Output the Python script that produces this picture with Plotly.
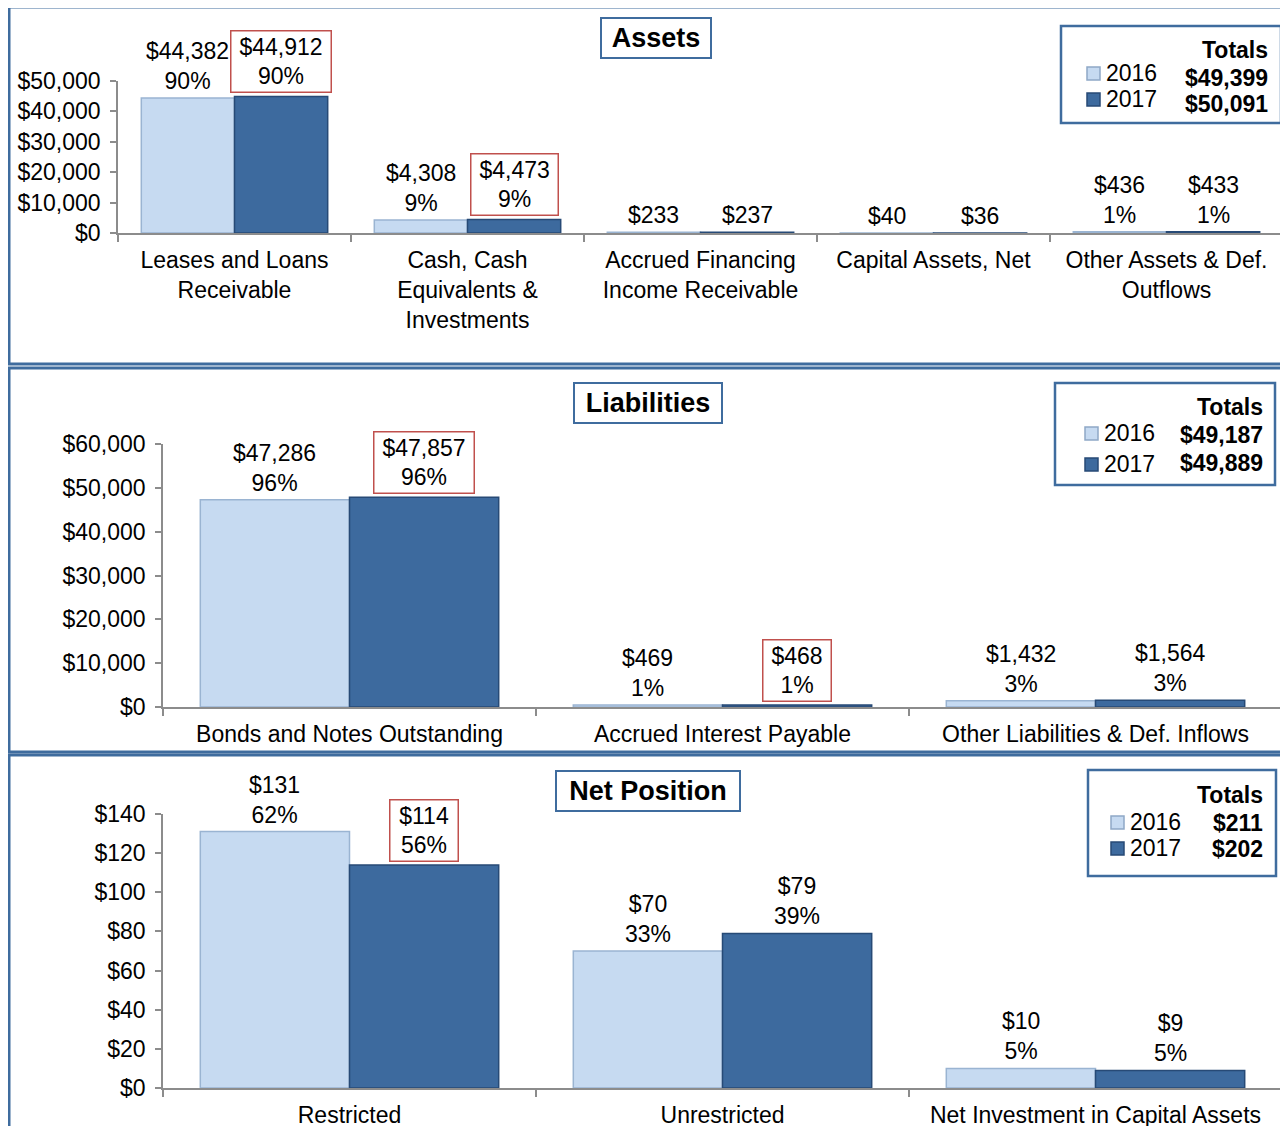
import plotly.graph_objects as go

# page body margin of the browser is 8px; figure coordinates are shifted by it
OFF = 8
W, H = 1280, 1118
FONT = "Liberation Sans, Arial, sans-serif"

# ---------------- data ----------------
title_text = "Condensed Summary of Net Position as of March 31 ($ in millions)"
years = ["2016", "2017"]

asset_cats = ["Leases and Loans<br>Receivable",
              "Cash, Cash<br>Equivalents &<br>Investments",
              "Accrued Financing<br>Income Receivable",
              "Capital Assets, Net",
              "Other Assets & Def.<br>Outflows"]
asset_2016 = [44382, 4308, 233, 40, 436]
asset_2017 = [44912, 4473, 237, 36, 433]
asset_pct_2016 = [90, 9, None, None, 1]
asset_pct_2017 = [90, 9, None, None, 1]
asset_totals = [49399, 50091]

liab_cats = ["Bonds and Notes Outstanding",
             "Accrued Interest Payable",
             "Other Liabilities & Def. Inflows"]
liab_2016 = [47286, 469, 1432]
liab_2017 = [47857, 468, 1564]
liab_pct_2016 = [96, 1, 3]
liab_pct_2017 = [96, 1, 3]
liab_totals = [49187, 49889]

net_cats = ["Restricted", "Unrestricted", "Net Investment in Capital Assets"]
net_2016 = [131, 70, 10]
net_2017 = [114, 79, 9]
net_pct_2016 = [62, 33, 5]
net_pct_2017 = [56, 39, 5]
net_totals = [211, 202]

# ---------------- style ----------------
C16, E16 = "#C6DAF1", "#9AB4D2"
C17, E17 = "#3D6A9E", "#274A76"
BLUE = "#3F6C9E"
RED = "#C0504D"
AXC = "#8C8C8C"


def px(x):
    return (x - OFF) / W


def py(y):
    return 1 - (y - OFF) / H


def money(v):
    return "${:,}".format(v)


def est_width(s, size=23):
    w = 0
    for ch in s:
        w += 0.278 if ch in ",." else (0.889 if ch == "%" else 0.556)
    return w * size


panels = [
    dict(s="", cats=asset_cats, v16=asset_2016, v17=asset_2017,
         p16=asset_pct_2016, p17=asset_pct_2017, tot=asset_totals,
         title="Assets", xdom=(118, 1283), ydom=(233, 81), yrange=(0, 50000), dtick=10000,
         tbox=(656, 38, 104, 34), frame=(9, 7, 1286, 364),
         leg=dict(box=(1061, 26, 1281, 123), right=1270, ytot=50, yrows=(73, 99), yvals=(78, 104),
                  xyear=1104, xmark=1087),
         hl=[0, 1]),
    dict(s="2", cats=liab_cats, v16=liab_2016, v17=liab_2017,
         p16=liab_pct_2016, p17=liab_pct_2017, tot=liab_totals,
         title="Liabilities", xdom=(163, 1282), ydom=(707, 444), yrange=(0, 60000), dtick=10000,
         tbox=(648, 403, 142, 34), frame=(9, 368, 1286, 752),
         leg=dict(box=(1055, 383, 1275, 485), right=1265, ytot=407, yrows=(433, 464), yvals=(435, 463),
                  xyear=1102, xmark=1085),
         hl=[0, 1]),
    dict(s="3", cats=net_cats, v16=net_2016, v17=net_2017,
         p16=net_pct_2016, p17=net_pct_2017, tot=net_totals,
         title="Net Position", xdom=(163, 1282), ydom=(1088, 814), yrange=(0, 140), dtick=20,
         tbox=(648, 791, 178, 34), frame=(9, 755, 1286, 1140),
         leg=dict(box=(1088, 770, 1276, 876), right=1265, ytot=795, yrows=(822, 848), yvals=(823, 849),
                  xyear=1128, xmark=1111),
         hl=[0]),
]

fig = go.Figure()
annotations = []
shapes = []
layout_axes = {}

for p in panels:
    s = p["s"]
    xa, ya = "x" + s, "y" + s
    fig.add_trace(go.Bar(x=p["cats"], y=p["v16"], xaxis=xa, yaxis=ya, name=years[0],
                         marker=dict(color=C16, line=dict(color=E16, width=1.5)),
                         showlegend=False, hoverinfo="skip"))
    fig.add_trace(go.Bar(x=p["cats"], y=p["v17"], xaxis=xa, yaxis=ya, name=years[1],
                         marker=dict(color=C17, line=dict(color=E17, width=1.5)),
                         showlegend=False, hoverinfo="skip"))

    layout_axes["xaxis" + s] = dict(
        domain=[px(p["xdom"][0]), px(p["xdom"][1])], anchor=ya, type="category",
        showline=True, linecolor=AXC, linewidth=1.5, ticks="outside", tickson="boundaries",
        ticklen=7, tickcolor=AXC, tickwidth=1.5, showgrid=False, zeroline=False,
        tickfont=dict(family=FONT, size=23, color="black"), ticklabelstandoff=6,
        automargin=False, fixedrange=True)
    layout_axes["yaxis" + s] = dict(
        domain=[py(p["ydom"][0]), py(p["ydom"][1])], anchor=xa,
        range=list(p["yrange"]), dtick=p["dtick"], tick0=0, tickprefix="$", tickformat=",d",
        showline=True, linecolor=AXC, linewidth=1.5, ticks="outside", ticklen=6,
        tickcolor=AXC, tickwidth=1.5, showgrid=False, zeroline=False,
        tickfont=dict(family=FONT, size=23, color="black"), ticklabelstandoff=5,
        automargin=False, fixedrange=True)

    # data labels
    for i in range(len(p["cats"])):
        for k, (vals, pcts) in enumerate(((p["v16"], p["p16"]), (p["v17"], p["p17"]))):
            v = vals[i]
            pc = pcts[i]
            txt = money(v) + ("" if pc is None else "<br>{}%".format(pc))
            ann = dict(x=i - 0.2 + 0.4 * k, y=v, xref=xa, yref=ya, text=txt,
                       showarrow=False, yanchor="bottom", xanchor="center",
                       font=dict(family=FONT, size=23, color="black"), yshift=2)
            if k == 1 and i in p["hl"]:
                ann.update(bordercolor=RED, borderwidth=1.5, borderpad=2, bgcolor="white",
                           width=est_width(money(v)) + 12, yshift=3)
            annotations.append(ann)

    # panel frame
    fx0, fy0, fx1, fy1 = p["frame"]
    shapes.append(dict(type="rect", xref="paper", yref="paper",
                       x0=px(fx0), x1=px(fx1), y0=py(fy1), y1=py(fy0),
                       line=dict(color=BLUE, width=3), layer="below"))

    # panel title box
    cx, cy, bw, bh = p["tbox"]
    annotations.append(dict(x=px(cx), y=py(cy), xref="paper", yref="paper", text="<b>%s</b>" % p["title"],
                            showarrow=False, xanchor="center", yanchor="middle",
                            font=dict(family=FONT, size=27, color="black"),
                            bordercolor=BLUE, borderwidth=2, borderpad=2, bgcolor="white",
                            width=bw, height=bh))

    # totals legend box
    lg = p["leg"]
    bx0, by0, bx1, by1 = lg["box"]
    shapes.append(dict(type="rect", xref="paper", yref="paper",
                       x0=px(bx0), x1=px(bx1), y0=py(by1), y1=py(by0),
                       line=dict(color=BLUE, width=2.5), fillcolor="white"))
    annotations.append(dict(x=px(lg["right"]), y=py(lg["ytot"]), xref="paper", yref="paper",
                            text="<b>Totals</b>", showarrow=False, xanchor="right", yanchor="middle",
                            font=dict(family=FONT, size=23, color="black")))
    for k in range(2):
        yr = lg["yrows"][k]
        mc, me = (C16, "#8FA8C6") if k == 0 else (C17, E17)
        shapes.append(dict(type="rect", xref="paper", yref="paper",
                           x0=px(lg["xmark"]), x1=px(lg["xmark"] + 13),
                           y0=py(yr + 7), y1=py(yr - 6),
                           line=dict(color=me, width=1.5), fillcolor=mc))
        annotations.append(dict(x=px(lg["xyear"]), y=py(yr), xref="paper", yref="paper",
                                text=years[k], showarrow=False, xanchor="left", yanchor="middle",
                                font=dict(family=FONT, size=23, color="black")))
        annotations.append(dict(x=px(lg["right"]), y=py(lg["yvals"][k]), xref="paper", yref="paper",
                                text="<b>%s</b>" % money(p["tot"][k]), showarrow=False,
                                xanchor="right", yanchor="middle",
                                font=dict(family=FONT, size=23, color="black")))

# chart title (cut off at the top edge as in the original)
annotations.append(dict(x=px(650), y=py(9), xref="paper", yref="paper",
                        text="<b>%s</b>" % title_text, showarrow=False,
                        xanchor="center", yanchor="bottom",
                        font=dict(family=FONT, size=26, color="black")))

fig.update_layout(
    template="none",
    width=W, height=H, margin=dict(l=0, r=0, t=0, b=0, autoexpand=False),
    paper_bgcolor="white", plot_bgcolor="rgba(0,0,0,0)",
    barmode="group", bargap=0.2, bargroupgap=0,
    font=dict(family=FONT, size=23, color="black"),
    annotations=annotations, shapes=shapes, showlegend=False,
    **layout_axes,
)

fig.write_html("out.html", config={"displayModeBar": False})
